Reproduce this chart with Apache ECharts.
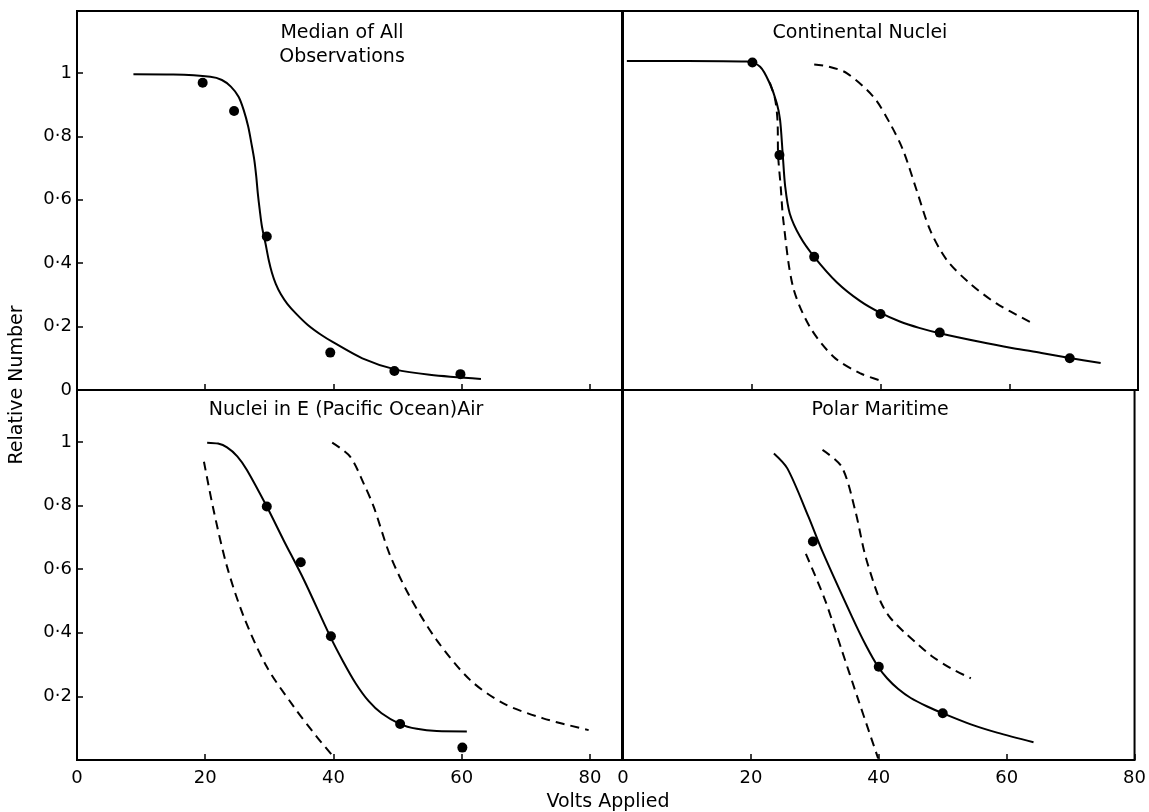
<html>
<head>
    <meta charset="utf-8">
    <title>Relative Number vs Volts Applied</title>
    <script src="https://cdn.jsdelivr.net/npm/echarts@6.0.0/dist/echarts.min.js"></script>
    <style>
        html, body { margin: 0; padding: 0; background: #fff; }
    </style>
</head>

<body>
<div id="main" style="width: 1149px; height: 812px"></div>
</body>
<script>
    // panel titles
    var panelTitles = ['Median of All\nObservations', 'Continental Nuclei', 'Nuclei in E (Pacific Ocean)Air', 'Polar Maritime']
    var xTicks = [0, 20, 40, 60, 80]

    // Median of All Observations
    var medianCurve = [[8.8, 0.996], [15, 0.995], [20.8, 0.988], [22.6, 0.978], [24.0, 0.957], [25.2, 0.925], [26.0, 0.883],
        [26.7, 0.831], [27.2, 0.778], [27.65, 0.726], [27.96, 0.673], [28.2, 0.62], [28.5, 0.568], [28.85, 0.515],
        [29.4, 0.462], [29.9, 0.41], [30.4, 0.37], [31.0, 0.335], [31.8, 0.302], [32.8, 0.272], [34.2, 0.24],
        [36.0, 0.205], [38.0, 0.175], [40, 0.15], [44.5, 0.1], [49.6, 0.065], [55, 0.048], [63, 0.035]]
    var medianDots = [[19.6, 0.969], [24.5, 0.88], [29.6, 0.484], [39.5, 0.118], [49.5, 0.06], [59.8, 0.05]]

    // Continental Nuclei
    var contCurve = [[0.6, 1.038], [10, 1.038], [19.2, 1.036], [21.3, 1.02], [22.8, 0.967], [23.9, 0.904], [24.4, 0.852],
        [24.8, 0.747], [25.2, 0.641], [25.9, 0.557], [27.5, 0.484], [29.7, 0.42], [33.2, 0.34], [36.8, 0.281],
        [40, 0.243], [43, 0.216], [46, 0.196], [49.2, 0.179], [55.4, 0.152], [60.6, 0.132], [65, 0.117], [69.4, 0.101], [74.2, 0.085]]
    var contDots = [[20.1, 1.033], [24.3, 0.741], [29.7, 0.42], [40, 0.24], [49.2, 0.181], [69.4, 0.1]]
    var contLow = [[22.8, 0.97], [23.6, 0.92], [24.0, 0.85], [24.1, 0.74], [24.5, 0.641], [24.9, 0.536], [26.4, 0.326],
        [29.0, 0.2], [32.7, 0.105], [36.8, 0.053], [40, 0.03]]
    var contHigh = [[29.7, 1.027], [32, 1.02], [34.8, 0.999], [38.9, 0.925], [41.5, 0.84], [43.5, 0.757], [45.6, 0.631],
        [47.7, 0.505], [50.3, 0.41], [53.9, 0.336], [58.0, 0.273], [63.2, 0.215]]

    // Nuclei in E (Pacific Ocean) Air
    var pacCurve = [[20.3, 0.998], [22, 0.995], [23.4, 0.983], [25, 0.955], [26.5, 0.912], [29.6, 0.797], [32.2, 0.692],
        [35.4, 0.566], [39.5, 0.388], [41.5, 0.31], [43.5, 0.24], [45.5, 0.185], [47.5, 0.147], [50.4, 0.113],
        [53, 0.098], [56.1, 0.091], [60.8, 0.09]]
    var pacDots = [[29.6, 0.797], [34.9, 0.622], [39.6, 0.389], [50.4, 0.113], [60.1, 0.039]]
    var pacLow = [[19.8, 0.938], [21.3, 0.786], [23.4, 0.608], [26, 0.451], [29.6, 0.293], [33.8, 0.168], [37.4, 0.073], [40, 0.01]]
    var pacHigh = [[39.8, 0.998], [42.6, 0.954], [44.7, 0.87], [46.3, 0.795], [48.8, 0.645], [51.9, 0.514], [56.1, 0.377],
        [61.3, 0.252], [66.5, 0.178], [72.7, 0.131], [79.8, 0.094]]

    // Polar Maritime
    var polarCurve = [[23.6, 0.964], [25.7, 0.917], [29.0, 0.765], [31.1, 0.66], [35.8, 0.451], [38, 0.36], [39.9, 0.293],
        [41.3, 0.257], [43, 0.224], [45, 0.195], [47.5, 0.169], [50, 0.147], [54.4, 0.112], [58.5, 0.086], [64.2, 0.056]]
    var polarDots = [[29.7, 0.687], [40, 0.293], [50, 0.147]]
    var polarLow = [[28.6, 0.648], [31.6, 0.503], [34.2, 0.346], [36.8, 0.189], [38.4, 0.094], [39.9, 0.005]]
    var polarHigh = [[31.2, 0.975], [34.2, 0.922], [36.3, 0.786], [37.8, 0.65], [39.4, 0.545], [40.4, 0.493], [41.5, 0.455],
        [42.8, 0.425], [44.1, 0.4], [46, 0.366], [48.2, 0.328], [51.3, 0.288], [54.4, 0.257]]

    var FONT = 'DejaVu Sans'
    var myChart = echarts.init(document.getElementById('main'))

    function grid (left, top, width, height) {
        return {left: left, top: top, width: width, height: height, show: true, borderColor: '#000', borderWidth: 2, backgroundColor: 'transparent'}
    }

    function xAxis (idx, max, labels) {
        return {
            type: 'value', gridIndex: idx, min: 0, max: max, interval: 20,
            axisLine: {show: false},
            axisTick: {inside: true, length: 6, lineStyle: {color: '#000', width: 1.5}},
            splitLine: {show: false},
            axisLabel: {
                show: labels, color: '#000', fontFamily: FONT, fontSize: 18, margin: 9,
                showMaxLabel: true,
                formatter: function (v) { return xTicks.indexOf(v) > -1 ? String(v) : '' }
            }
        }
    }

    function yAxis (idx, max, labels, showZero) {
        return {
            type: 'value', gridIndex: idx, min: 0, max: max, interval: 0.2,
            axisLine: {show: false},
            axisTick: {show: labels, inside: true, length: 6, lineStyle: {color: '#000', width: 1.5}},
            splitLine: {show: false},
            axisLabel: {
                show: labels, color: '#000', fontFamily: FONT, fontSize: 18, margin: 5,
                formatter: function (v) {
                    let r = Math.round(v * 5)
                    if (Math.abs(v * 5 - r) > 1e-6 || r > 5) return ''
                    if (r === 0) return showZero ? '0' : ''
                    if (r === 5) return '1'
                    return ('0.' + (r * 2)).replace('.', '·')
                }
            }
        }
    }

    function curve (idx, data, dashed) {
        return {
            type: 'line', xAxisIndex: idx, yAxisIndex: idx, data: data,
            smooth: 0.3, showSymbol: false, silent: true,
            lineStyle: {color: '#000', width: 2, type: dashed ? [9, 6] : 'solid'}
        }
    }

    function dots (idx, data) {
        return {
            type: 'scatter', xAxisIndex: idx, yAxisIndex: idx, data: data,
            symbolSize: 10, itemStyle: {color: '#000', opacity: 1}, silent: true
        }
    }

    function label (text, x, y, rotate) {
        return {
            type: 'text', x: x, y: y, rotation: rotate || 0,
            style: {text: text, fill: '#000', font: '19px "' + FONT + '"', textAlign: 'center', textVerticalAlign: 'middle', lineHeight: 24}
        }
    }

    myChart.setOption({
        animation: false,
        grid: [
            grid(77, 11, 545, 379),
            grid(623, 11, 515, 379),
            grid(77, 390, 545, 370),
            grid(623, 390, 515, 370)
        ],
        xAxis: [xAxis(0, 85, false), xAxis(1, 80, false), xAxis(2, 85, true), xAxis(3, 80, true)],
        yAxis: [yAxis(0, 1.1956, true, true), yAxis(1, 1.1956, false, false), yAxis(2, 1.1635, true, false), yAxis(3, 1.1635, false, false)],
        graphic: [
            label(panelTitles[0], 342, 45),
            label(panelTitles[1], 860, 33),
            label(panelTitles[2], 346, 410),
            label(panelTitles[3], 880, 410),
            label('Volts Applied', 608, 802),
            label('Relative Number', 17, 385, Math.PI / 2)
        ],
        series: [
            curve(0, medianCurve), dots(0, medianDots),
            curve(1, contCurve), curve(1, contLow, true), curve(1, contHigh, true), dots(1, contDots),
            curve(2, pacCurve), curve(2, pacLow, true), curve(2, pacHigh, true), dots(2, pacDots),
            curve(3, polarCurve), curve(3, polarLow, true), curve(3, polarHigh, true), dots(3, polarDots)
        ]
    })
</script>
</html>
